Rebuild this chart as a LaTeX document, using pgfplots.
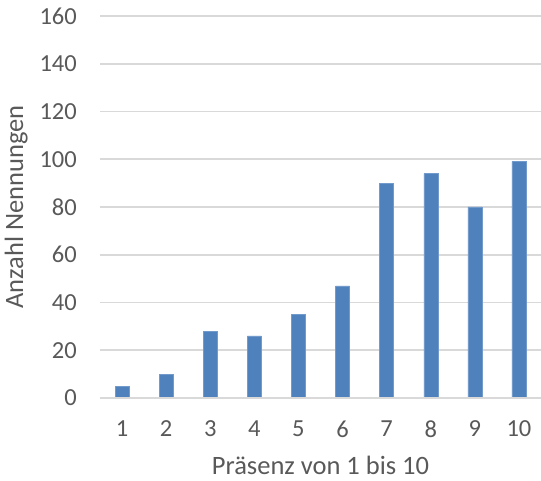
\documentclass[border=0pt]{standalone}
\usepackage{pgfplots}
\pgfplotsset{compat=1.18}
\usepackage{fontspec}
\setmainfont{Carlito}

\definecolor{barblue}{HTML}{4F81BD}
\definecolor{gridgray}{HTML}{D9D9D9}
\definecolor{textgray}{HTML}{595959}

\pgfplotstableread{
x  n
1  5
2  10
3  28
4  26
5  35
6  47
7  90
8  94
9  80
10 99
}\nennungen

\begin{document}
\begin{tikzpicture}
\begin{axis}[
  name=ax,
  scale only axis,
  width=441pt, height=382pt,
  xmin=0.5, xmax=10.5,
  ymin=0, ymax=160,
  xtick=data,
  ytick={0,20,...,160},
  axis line style={draw=none},
  ymajorgrids,
  grid style={gridgray, line width=1.6pt},
  major tick length=0pt,
  tick style={draw=none},
  tick label style={text=textgray, font=\fontsize{24.5}{29}\selectfont},
  /pgf/number format/assume math mode=true,
  xticklabel style={anchor=center, yshift=-31pt, inner sep=0pt},
  yticklabel style={anchor=east, xshift=-23pt, inner sep=0pt},
  xlabel={Präsenz von 1 bis 10},
  ylabel={Anzahl Nennungen},
  label style={text=textgray, font=\fontsize{26.5}{31}\selectfont},
  xlabel style={at={(axis description cs:0.5,-0.177)}, anchor=center, inner sep=0pt},
  ylabel style={at={(axis description cs:-0.19,0.5)}, anchor=center, inner sep=0pt},
  clip=false,
]
\addplot[ybar, bar width=14pt, fill=barblue, draw=barblue!80!white, line width=0.4pt]
  table[x=x, y=n] {\nennungen};
\draw[gridgray, line width=1.6pt] (rel axis cs:0,0) -- (rel axis cs:1,0);
\end{axis}
\pgfresetboundingbox
\path[use as bounding box] (ax.south west) ++(-100pt,-83pt) rectangle ([shift={(0pt,16pt)}]ax.north east);
\end{tikzpicture}
\end{document}
